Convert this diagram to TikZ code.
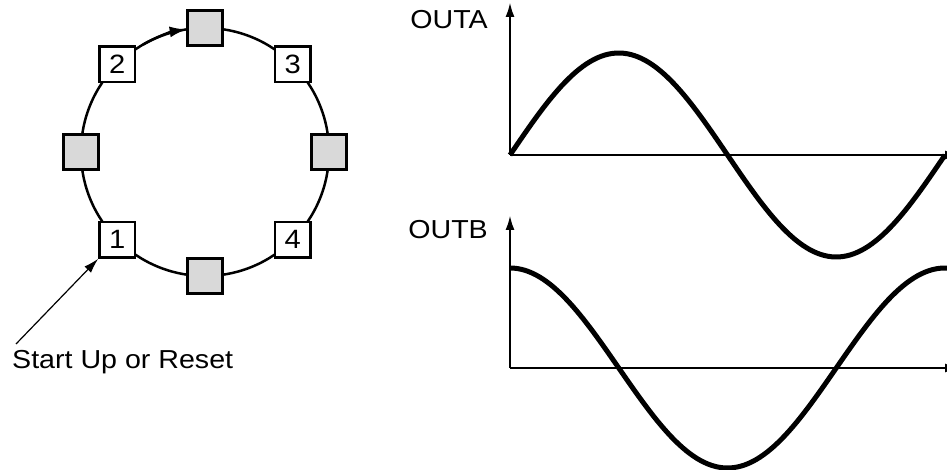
\documentclass[tikz,border=0pt]{standalone}
\usepackage{fontspec}
\setmainfont{Liberation Sans}[FakeStretch=1.1]
\usetikzlibrary{arrows.meta, calc}

\newcommand\diagfont{\fontsize{26}{30}\selectfont}

\tikzset{
  cell/.style={draw, line width=2.7pt, minimum size=35.5pt, inner sep=0pt,
    fill=white, font=\fontsize{26.5}{30}\selectfont},
  blank/.style={cell, fill=gray!30},
  ring/.style={line width=2.5pt},
  axis/.style={line width=2.5pt, -{Latex[length=15pt,width=9pt]}},
  wave/.style={line width=5pt},
}

\begin{document}
\begin{tikzpicture}[x=1pt,y=1pt]
\useasboundingbox (0,0) rectangle (947,470);

% state ring
\coordinate (c) at (205,318);
\draw[ring] (c) circle[radius=124];
\draw[ring, -{Latex[length=17pt,width=11pt]}] ($(c)+(120:124)$)
  arc[start angle=120, end angle=98.5, radius=124];
\foreach \a/\n in {90/g1, 0/g2, 270/g3, 180/g4}
  \node[blank] (\n) at ($(c)+(\a:124)$) {};
\foreach \a/\n in {225/1, 135/2, 45/3, 315/4}
  \node[cell] (st\n) at ($(c)+(\a:124)$) {\n};

% reset pointer
\node[anchor=base west, inner sep=0pt, font=\diagfont] (reset) at (12,101) {Start Up or Reset};
\coordinate (tail) at (16,126);
\draw[line width=1.2pt, -{Latex[length=15pt,width=9pt]}] (tail) -- (st1.south west);

% output A
\coordinate (oa) at (510,315);
\node[anchor=east, inner sep=0pt, font=\diagfont] (outa) at (488,450) {OUTA};
\draw[axis] (oa) -- ++(0,153);
\draw[axis] (oa) -- ++(450,0);
\draw[wave] plot[domain=0:435, samples=120] ({510+\x}, {315+102*sin(\x/435*360)});

% output B
\coordinate (ob) at (510,102);
\node[anchor=east, inner sep=0pt, font=\diagfont] (outb) at (488,240) {OUTB};
\draw[axis] (ob) -- ++(0,153);
\draw[axis] (ob) -- ++(450,0);
\draw[wave] plot[domain=0:437, samples=120] ({510+\x}, {102+100*cos(\x/435*360)});
\end{tikzpicture}
\end{document}
